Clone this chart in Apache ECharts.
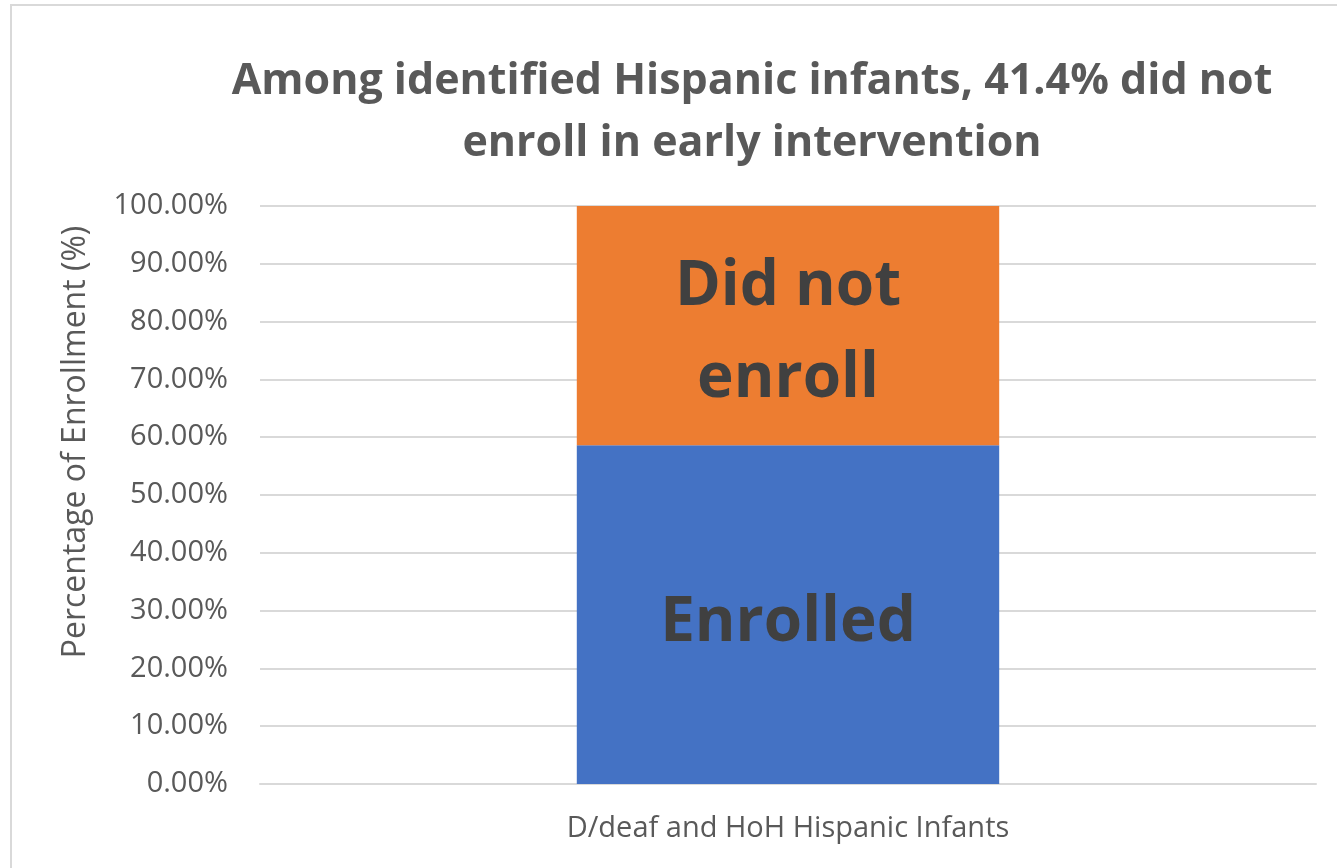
<!DOCTYPE html>
<html><head><meta charset="utf-8">
<script src="https://cdn.jsdelivr.net/npm/echarts@6/dist/echarts.min.js"></script>
<style>html,body{margin:0;padding:0;background:#fff}#c{width:1337px;height:868px}</style>
</head><body><div id="c"></div>
<script>
const categories = ['D/deaf and HoH Hispanic Infants'];
const enrolled = [58.6];
const notEnrolled = [41.4];
const seriesNames = ['Enrolled', 'Did not\nenroll'];
const titleText = 'Among identified Hispanic infants, 41.4% did not\nenroll in early intervention';
const yAxisName = 'Percentage of Enrollment (%)';

const chart = echarts.init(document.getElementById('c'));
const font = '"Open Sans", sans-serif';
chart.setOption({
  animation: false,
  graphic: [{type:'rect', shape:{x:11,y:5,width:1400,height:900}, style:{fill:'none', stroke:'#d9d9d9', lineWidth:2}, silent:true}],
  title: {
    text: titleText, left: 747, top: 46, textAlign: 'center',
    textStyle: {fontFamily: font, fontSize: 43, fontWeight: 'bold', color: '#595959', lineHeight: 62}
  },
  grid: {left: 260, right: 21, top: 206, bottom: 84, containLabel: false},
  xAxis: {
    type: 'category', data: categories,
    axisLine: {show: true, lineStyle: {color: '#d9d9d9', width: 2}},
    axisTick: {show: false},
    axisLabel: {fontFamily: font, fontSize: 29, color: '#595959', margin: 30}
  },
  yAxis: {
    type: 'value', min: 0, max: 100, interval: 10,
    name: yAxisName, nameLocation: 'middle', nameGap: 168, nameRotate: 90,
    nameTextStyle: {fontFamily: font, fontSize: 32, color: '#595959', padding: [0, 0, 0, 106]},
    axisLabel: {fontFamily: font, fontSize: 29, color: '#595959', margin: 32, formatter: v => v.toFixed(2) + '%'},
    splitLine: {lineStyle: {color: '#d9d9d9', width: 2}},
    axisLine: {show: false}, axisTick: {show: false}
  },
  series: [
    {name: seriesNames[0], type: 'bar', stack: 's', data: enrolled, barWidth: '40%',
     itemStyle: {color: '#4472C4'},
     label: {show: true, position: 'inside', offset: [0, 9], formatter: seriesNames[0], fontFamily: font, fontSize: 62, fontWeight: 'bold', color: '#404040'}},
    {name: seriesNames[1], type: 'bar', stack: 's', data: notEnrolled, barWidth: '40%',
     itemStyle: {color: '#ED7D31'},
     label: {show: true, position: 'inside', offset: [0, 8], formatter: seriesNames[1], fontFamily: font, fontSize: 62, fontWeight: 'bold', color: '#404040', lineHeight: 92}}
  ]
});
</script></body></html>
